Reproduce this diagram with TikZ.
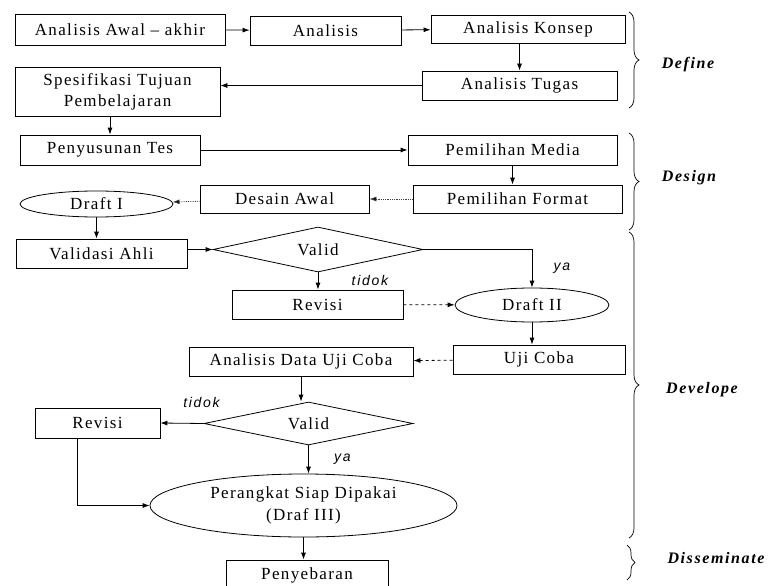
\documentclass[tikz,border=0pt]{standalone}
\usepackage{fontspec}
\usepackage{tikz}
\usetikzlibrary{positioning,shapes.geometric,arrows.meta,decorations.pathreplacing}
\newfontfamily\boxfont{Liberation Serif}[LetterSpace=8]
\newfontfamily\notefont{Liberation Sans}[LetterSpace=12]
\newfontfamily\stagefont{Liberation Serif}[LetterSpace=10]
\newcommand{\boxh}{29pt}
\tikzset{
	box/.style = {draw, rectangle, minimum height = \boxh, inner sep = 0pt, font = \boxfont\fontsize{17}{21}\selectfont},
	oval/.style = {draw, ellipse, inner sep = 0pt, font = \boxfont\fontsize{17}{22}\selectfont},
	decision/.style = {draw, diamond, aspect = 4.6, inner sep = 0pt, font = \boxfont\fontsize{17}{21}\selectfont},
	note/.style = {font = \notefont\itshape\fontsize{14}{16}\selectfont},
	stage/.style = {font = \stagefont\bfseries\itshape\fontsize{16}{18}\selectfont},
	phase/.style = {decorate, decoration = {brace, amplitude = 10pt}, line width = 0.7pt},
}
\begin{document}
\begin{tikzpicture}[x=1pt, y=-1pt, line width = 0.8pt, >={Latex[length=7pt, width=5pt]}]
		\useasboundingbox[fill = white] (0,0) rectangle (768,586);
		% Define
		\node[box, minimum width = 210pt, minimum height = 31pt] (0) at (120,29.5) {Analisis Awal – akhir};
		\node[box, minimum width = 151pt] (1) at (325.5,30.5) {Analisis};
		\node[box, minimum width = 194pt, minimum height = 28pt] (2) at (528,29) {Analisis Konsep};
		\node[box, minimum width = 195pt] (3) at (519.5,85.5) {Analisis Tugas};
		\node[box, minimum width = 205pt, minimum height = 49pt, align = center] (4) at (117.5,91.5) {Spesifikasi Tujuan\\Pembelajaran};
		% Design
		\node[box, minimum width = 180pt, minimum height = 30pt] (5) at (110,150) {Penyusunan Tes};
		\node[box, minimum width = 209pt, minimum height = 30pt] (6) at (512.5,150) {Pemilihan Media};
		\node[box, minimum width = 209pt, minimum height = 28pt] (7) at (517.5,199) {Pemilihan Format};
		\node[box, minimum width = 169pt, minimum height = 28pt] (8) at (284.5,199) {Desain Awal};
		\node[oval, minimum width = 153pt, minimum height = 26pt] (9) at (96.5,204) {Draft I};
		% Develope
		\node[box, minimum width = 171pt] (10) at (101.5,253.5) {Validasi Ahli};
		\node[decision, minimum width = 210pt, minimum height = 45pt] (11) at (318,249.5) {Valid};
		\node[box, minimum width = 171pt] (12) at (317.5,304.5) {Revisi};
		\node[oval, minimum width = 154pt, minimum height = 34pt] (13) at (532,305) {Draft II};
		\node[box, minimum width = 172pt] (14) at (539,359.5) {Uji Coba};
		\node[box, minimum width = 224pt] (15) at (301,361.5) {Analisis Data Uji Coba};
		\node[decision, minimum width = 209pt, minimum height = 43pt] (16) at (308.5,423.5) {Valid};
		\node[box, minimum width = 125pt, minimum height = 30pt] (17) at (97.5,423) {Revisi};
		\node[oval, minimum width = 307pt, minimum height = 63pt, align = center] (18) at (303.5,505.5) {Perangkat Siap Dipakai\\(Draf III)};
		% Disseminate
		\node[box, minimum width = 162pt, minimum height = 30pt] (19) at (307,575) {Penyebaran};
		\path[->]
			(0) edge (1)
			(1) edge (2)
			(3.north |- 2.south) edge (3.north)
			(3.west) edge (3.west -| 4.east)
			(5.north |- 4.south) edge (5.north)
			(5) edge (6)
			(6.south) edge (6.south |- 7.north)
			(9.south) edge (9.south |- 10.north)
			(11.west -| 10.east) edge (11.west)
			(11.south) edge node[note, pos = 0.45, right = 30pt] {tidok} (11.south |- 12.north)
			(13.south) edge (13.south |- 14.north)
			(15.south) edge (15.south |- 16.north)
			(16.west) edge node[note, pos = 0.05, above = 12pt] {tidok} (17.east)
			(16.south) edge node[note, pos = 0.5, right = 22pt] {ya} (16.south |- 18.north)
			(18.south) edge (18.south |- 19.north)
		;
		\draw[->] (11.east) -| node[note, pos = 0.75, right = 18pt] {ya} (13.north);
		\draw[->] ([xshift = -20pt]17.south) |- (18.west);
		\path[->, densely dotted, draw = black!75]
			(7) edge (8)
			(8) edge (9)
		;
		\path[->, dashed]
			(12) edge (13)
			(14) edge (15)
		;
		% stages
		\coordinate (d0) at (629,12);  \coordinate (d1) at (629,108);
		\coordinate (e0) at (629,133); \coordinate (e1) at (629,230);
		\coordinate (f0) at (629,232); \coordinate (f1) at (629,538);
		\coordinate (g0) at (627,545); \coordinate (g1) at (627,580);
		\draw[phase] (d0) -- (d1);
		\draw[phase] (e0) -- (e1);
		\draw[phase] (f0) -- (f1);
		\draw[phase, decoration = {amplitude = 8pt}] (g0) -- (g1);
		\node[stage] (define) at (688,65) {Define};
		\node[stage] (design) at (689,178) {Design};
		\node[stage] (develope) at (702,390) {Develope};
		\node[stage] (disseminate) at (716,558) {Disseminate};
	\end{tikzpicture}
\end{document}
